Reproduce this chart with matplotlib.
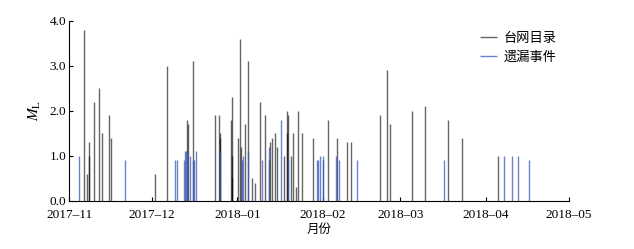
import matplotlib
matplotlib.use('Agg')
import matplotlib.pyplot as plt
import matplotlib.dates as mdates
import pandas as pd

plt.rcParams['font.family'] = ['Liberation Serif', 'Noto Sans CJK SC']
plt.rcParams['mathtext.fontset'] = 'stix'

# 台网目录 (catalogue events)
cat_time = ['2017-11-06 13:00', '2017-11-07 15:00', '2017-11-08 03:00', '2017-11-08 08:00',
            '2017-11-09 23:00', '2017-11-11 21:00', '2017-11-12 23:00', '2017-11-15 12:00',
            '2017-11-16 07:00', '2017-12-02 07:00', '2017-12-06 14:00', '2017-12-13 20:00',
            '2017-12-14 05:00', '2017-12-15 21:00', '2017-12-23 21:00', '2017-12-25 10:00',
            '2017-12-25 16:00', '2017-12-25 19:00', '2017-12-29 13:00', '2017-12-29 22:00',
            '2017-12-30 00:00', '2017-12-30 03:00', '2018-01-01 02:00', '2018-01-01 22:00',
            '2018-01-02 04:00', '2018-01-03 17:00', '2018-01-04 22:00', '2018-01-06 04:00',
            '2018-01-07 08:00', '2018-01-09 06:00', '2018-01-10 21:00', '2018-01-12 07:00',
            '2018-01-12 19:00', '2018-01-13 12:00', '2018-01-14 11:00', '2018-01-15 05:00',
            '2018-01-18 00:00', '2018-01-18 22:00', '2018-01-19 01:00', '2018-01-19 07:00',
            '2018-01-20 06:00', '2018-01-21 05:00', '2018-01-22 05:00', '2018-01-22 22:00',
            '2018-01-24 09:00', '2018-01-28 06:00', '2018-02-02 18:00', '2018-02-05 22:00',
            '2018-02-09 18:00', '2018-02-11 05:00', '2018-02-21 12:00', '2018-02-24 03:00',
            '2018-02-25 05:00', '2018-03-05 04:00', '2018-03-10 00:00', '2018-03-18 05:00',
            '2018-03-23 07:00', '2018-04-05 10:00']
cat_mag = [3.8, 0.6, 1.0, 1.3,
           2.2, 2.5, 1.5, 1.9,
           1.4, 0.6, 3.0, 1.8,
           1.7, 3.1, 1.9, 1.9,
           1.5, 1.4, 1.8, 2.3,
           1.0, 0.5, 1.4, 3.6,
           1.2, 1.7, 3.1, 0.5,
           0.4, 2.2, 1.9, 0.9,
           1.3, 1.4, 1.5, 1.2,
           1.0, 1.5, 2.0, 1.9,
           1.0, 1.5, 0.3, 2.0,
           1.5, 1.4, 1.8, 1.4,
           1.3, 1.3, 1.9, 2.9,
           1.7, 2.0, 2.1, 1.8,
           1.4, 1.0]

# 遗漏事件 (missed events)
miss_time = ['2017-11-04 15:00', '2017-11-21 04:00', '2017-12-09 06:00', '2017-12-10 02:00',
             '2017-12-12 13:00', '2017-12-12 21:00', '2017-12-13 06:00', '2017-12-13 14:00',
             '2017-12-14 17:00', '2017-12-15 19:00', '2017-12-16 09:00', '2017-12-17 02:00',
             '2017-12-25 14:00', '2018-01-02 18:00', '2018-01-03 01:00', '2018-01-04 22:00',
             '2018-01-09 18:00', '2018-01-12 12:00', '2018-01-16 16:00', '2018-01-19 10:00',
             '2018-01-29 16:00', '2018-01-30 04:00', '2018-01-30 18:00', '2018-01-31 20:00',
             '2018-02-01 02:00', '2018-02-05 20:00', '2018-02-06 21:00', '2018-02-13 06:00',
             '2018-03-16 16:00', '2018-04-07 12:00', '2018-04-10 12:00', '2018-04-12 11:00',
             '2018-04-16 13:00']
miss_mag = [1.0, 0.9, 0.9, 0.9,
            0.9, 1.1, 1.1, 1.1,
            1.0, 0.9, 0.9, 1.1,
            1.1, 0.9, 1.0, 1.1,
            0.9, 1.2, 1.8, 0.9,
            0.9, 0.9, 1.0, 1.0,
            0.9, 1.0, 0.9, 0.9,
            0.9, 1.0, 1.0, 1.0,
            0.9]

fig = plt.figure(figsize=(6.34, 2.49), dpi=100)
ax = fig.add_axes([0.109, 0.194, 0.788, 0.722])

ax.vlines(pd.to_datetime(cat_time), 0, cat_mag, color='black', alpha=0.6, lw=1.0, label='台网目录')
ax.vlines(pd.to_datetime(miss_time), 0, miss_mag, color='#3a58bb', alpha=0.75, lw=1.0, label='遗漏事件')

ax.set_xlim(pd.Timestamp('2017-11-01'), pd.Timestamp('2018-05-01'))
ax.set_ylim(0, 4)
ax.set_yticks([0, 1, 2, 3, 4])
ax.yaxis.set_major_formatter(plt.FuncFormatter(lambda v, p: '%.1f' % v))
ax.xaxis.set_major_locator(mdates.MonthLocator())
ax.xaxis.set_major_formatter(plt.FuncFormatter(lambda v, p: mdates.num2date(v).strftime('%Y\u2013%m')))

for s in ['top', 'right']:
    ax.spines[s].set_visible(False)
ax.tick_params(direction='in', length=3, labelsize=9.5)
ax.tick_params(axis='x', pad=6)
ax.tick_params(axis='y', pad=2)

ax.set_xlabel('月份', fontsize=9, labelpad=2)
ax.set_ylabel('$M_\\mathrm{L}$', fontsize=11, labelpad=5)

ax.legend(loc='upper right', bbox_to_anchor=(1.0, 1.0), frameon=False, fontsize=9.5,
          handlelength=1.3, handletextpad=0.5, labelspacing=0.45)

fig.savefig('out.png', dpi=100)
